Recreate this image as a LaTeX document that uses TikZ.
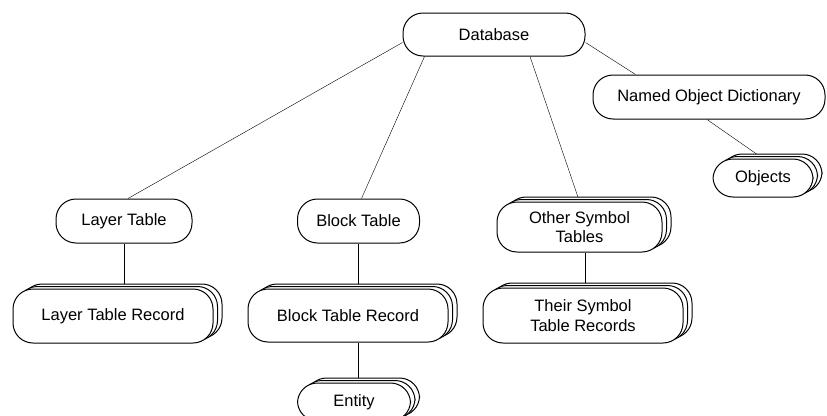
\documentclass[tikz,border=0pt]{standalone}
\usepackage{fontspec}
\setmainfont{Liberation Sans}
\usetikzlibrary{shadows,backgrounds}
\begin{document}
\begin{tikzpicture}[x=1pt,y=-1pt]
\tikzset{boite/.style={draw, line width=1pt, fill=white, rounded corners=20pt, inner sep=0pt, align=center, font=\fontsize{16.5}{19.5}\selectfont}}
\tikzset{pile/.style={boite,
  general shadow={shadow xshift=9pt, shadow yshift=5pt, draw=black, line width=1pt, fill=white},
  general shadow={shadow xshift=4.5pt, shadow yshift=2.5pt, draw=black, line width=1pt, fill=white}}}
\useasboundingbox (0,0) rectangle (827,415);
\node[boite, minimum width=182pt, minimum height=43pt] (DB) at (494,34.5) {Database};
\node[boite, minimum width=232pt, minimum height=44pt] (NOD) at (709,97) {Named Object Dictionary};
\node[pile, minimum width=100pt, minimum height=38pt] (OBJ) at (763,178) {Objects};
\node[boite, minimum width=136pt, minimum height=44pt] (LT) at (124,221) {Layer Table};
\node[boite, minimum width=122pt, minimum height=44pt] (BT) at (358.5,221) {Block Table};
\node[pile, minimum width=165pt, minimum height=50pt] (OST) at (579.5,227) {Other Symbol\\Tables};
\node[pile, minimum width=200pt, minimum height=54pt] (LTR) at (113,316) {Layer Table Record};
\node[pile, minimum width=200pt, minimum height=53pt] (BTR) at (348,315.5) {Block Table Record};
\node[pile, minimum width=200pt, minimum height=55pt] (TSTR) at (583,315.5) {Their Symbol\\Table Records};
\node[pile, minimum width=113pt, minimum height=38pt] (ENT) at (354,402) {Entity};
\begin{scope}[on background layer, line width=1pt]
\draw ([yshift=-8pt]DB.west) -- ([xshift=4pt]LT.north);
\draw ([xshift=22pt]DB.south west) -- ([xshift=3pt]BT.north);
\draw ([xshift=36pt]DB.south) -- (OST.north);
\draw ([yshift=-8pt]DB.east) -- ([xshift=43pt]NOD.north west);
\draw ([xshift=-2pt]NOD.south) -- (OBJ.north);
\draw (LT) -- (LT |- LTR.north);
\draw (BT) -- (BT |- BTR.north);
\draw (BT |- BTR.south) -- (BT |- ENT.north);
\draw ([xshift=6pt]OST.south) -- ([xshift=6pt]OST.south |- TSTR.north);
\end{scope}
\end{tikzpicture}
\end{document}
